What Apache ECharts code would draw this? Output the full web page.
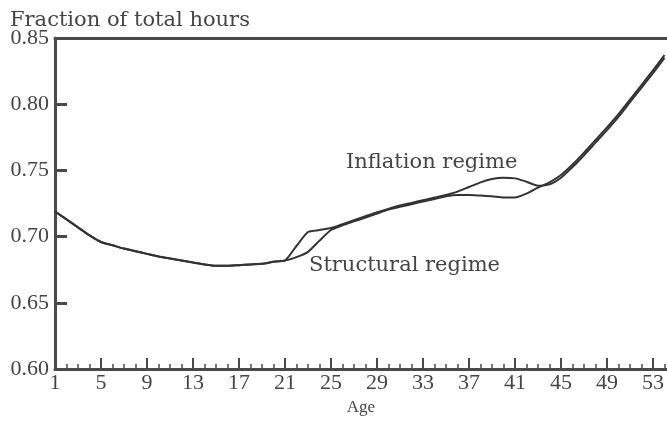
<!DOCTYPE html>
<html>
<head>
<meta charset="utf-8">
<script src="https://cdn.jsdelivr.net/npm/echarts@6/dist/echarts.min.js"></script>
<style>
html,body{margin:0;padding:0;background:#fff;}
#chart{width:667px;height:421px;}
</style>
</head>
<body>
<div id="chart"></div>
<script>
const ages = [1,2,3,4,5,6,7,8,9,10,11,12,13,14,15,16,17,18,19,20,21,22,23,24,25,26,27,28,29,30,31,32,33,34,35,36,37,38,39,40,41,42,43,44,45,46,47,48,49,50,51,52,53,54];
const inflationRegime = [0.719,0.713,0.707,0.701,0.696,0.6935,0.691,0.689,0.687,0.685,0.6835,0.682,0.6805,0.679,0.678,0.678,0.6785,0.679,0.6795,0.681,0.682,
  0.693,0.7035,0.705,0.7065,0.7095,0.7125,0.7155,0.7185,0.721,0.7235,0.7255,0.7275,0.7295,0.7315,0.734,0.7375,0.741,0.7435,0.7445,0.744,0.7415,0.7385,0.7395,0.7445,0.7525,0.7615,0.771,0.7805,0.7905,0.8015,0.8125,0.8235,0.835];
const structuralRegime = [0.719,0.713,0.707,0.701,0.696,0.6935,0.691,0.689,0.687,0.685,0.6835,0.682,0.6805,0.679,0.678,0.678,0.6785,0.679,0.6795,0.681,0.682,
  0.6845,0.6885,0.697,0.705,0.7085,0.7115,0.7145,0.7175,0.7205,0.7225,0.7245,0.7265,0.7285,0.7305,0.7315,0.7315,0.731,0.7305,0.7295,0.7295,0.7325,0.737,0.741,0.7465,0.7545,0.7635,0.773,0.7825,0.7925,0.8035,0.8145,0.8255,0.837];
const xLabelValues = [1,5,9,13,17,21,25,29,33,37,41,45,49,53];
const xMajorTicks = [5,9,13,17,21,25,29,33,37,41,45,49,53];
const xMinorTicks = [2,3,4,6,7,8,10,11,12,14,15,16,18,19,20,22,23,24,26,27,28,30,31,32,34,35,36,38,39,40,42,43,44,46,47,48,50,51,52,54];
const yTickValues = [0.60,0.65,0.70,0.75,0.80,0.85];

const axisColor = '#4a4a4a';
const textColor = '#454545';
const numFont = 'Liberation Serif';
const txtFont = 'DejaVu Serif';

const chart = echarts.init(document.getElementById('chart'), null, {renderer:'canvas'});
const pairs = (ys) => ages.map((a,i)=>[a, ys[i]]);

chart.setOption({
  animation:false,
  backgroundColor:'#fff',
  title:{
    text:'Fraction of total hours', left:5, top:5,
    textStyle:{fontFamily:txtFont, fontSize:21, fontWeight:'normal', color:textColor}
  },
  grid:{left:55, right:0, top:38, bottom:48, containLabel:false},
  xAxis:[{
    type:'value', min:1, max:54.2, interval:4, position:'bottom',
    name:'Age', nameLocation:'middle', nameGap:29,
    nameTextStyle:{fontFamily:numFont, fontSize:17, color:textColor},
    axisLine:{show:true, onZero:false, lineStyle:{color:axisColor, width:3}},
    axisTick:{show:true, inside:true, length:11, customValues:xMajorTicks, lineStyle:{color:axisColor, width:2}},
    axisLabel:{show:true, margin:3, customValues:xLabelValues, showMinLabel:true, showMaxLabel:true, hideOverlap:false,
      fontFamily:numFont, fontSize:22, color:textColor,
      formatter:(v)=> Number.isInteger(v) ? String(v) : ''},
    splitLine:{show:false}
  },{
    type:'value', min:1, max:54.2, position:'top',
    axisLine:{show:true, onZero:false, lineStyle:{color:axisColor, width:3}},
    axisTick:{show:false}, axisLabel:{show:false}, splitLine:{show:false}
  },{
    type:'value', min:1, max:54.2, position:'bottom', offset:0,
    axisLine:{show:false, onZero:false},
    axisTick:{show:true, inside:true, length:5, customValues:xMinorTicks, lineStyle:{color:axisColor, width:1.5}},
    axisLabel:{show:false}, splitLine:{show:false}
  }],
  yAxis:[{
    type:'value', min:0.60, max:0.85, interval:0.05,
    axisLine:{show:true, onZero:false, lineStyle:{color:axisColor, width:3}},
    axisTick:{show:true, inside:true, length:12, customValues:yTickValues, lineStyle:{color:axisColor, width:3}},
    axisLabel:{show:true, margin:6, customValues:yTickValues, fontFamily:numFont, fontSize:22, color:textColor,
      formatter:(v)=> v.toFixed(2)},
    splitLine:{show:false}
  }],
  series:[{
    name:'Inflation regime', type:'line', xAxisIndex:0, yAxisIndex:0,
    data:pairs(inflationRegime), showSymbol:false, smooth:0.2,
    lineStyle:{color:'#333', width:2}
  },{
    name:'Structural regime', type:'line', xAxisIndex:0, yAxisIndex:0,
    data:pairs(structuralRegime), showSymbol:false, smooth:0.2,
    lineStyle:{color:'#333', width:2}
  }],
  graphic:[{
    type:'text', left:346, top:152,
    style:{text:'Inflation regime', font:'21px "DejaVu Serif"', fill:textColor}
  },{
    type:'text', left:309, top:255,
    style:{text:'Structural regime', font:'21px "DejaVu Serif"', fill:textColor}
  }]
});
</script>
</body>
</html>
